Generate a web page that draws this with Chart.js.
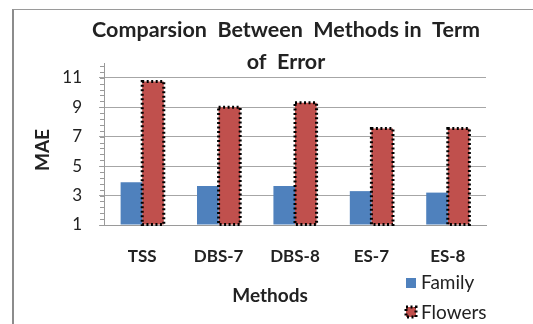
<!DOCTYPE html>
<html>
<head>
<meta charset="utf-8">
<script src="https://cdn.jsdelivr.net/npm/chart.js@4"></script>
<style>
  html, body { margin: 0; padding: 0; background: #fff; }
  #wrap { position: relative; width: 533px; height: 324px; overflow: hidden; }
  #frame { position: absolute; left: 12px; top: 9px; width: 600px; height: 400px;
           border-left: 2px solid #8c8c8c; border-top: 1px solid #9a9a9a; }
  #myChart { position: absolute; left: 0; top: 0; }
</style>
</head>
<body>
<div id="wrap">
  <div id="frame"></div>
  <canvas id="myChart" width="533" height="324"></canvas>
</div>
<script>
const methods = ["TSS", "DBS-7", "DBS-8", "ES-7", "ES-8"];
const familyMae = [3.9, 3.65, 3.65, 3.3, 3.2];
const flowersMae = [10.75, 9.0, 9.3, 7.55, 7.55];
const yTicks = [1, 3, 5, 7, 9, 11];

const FONT = "Lato, 'Open Sans', sans-serif";
const BLUE = "#4f81bd";
const RED = "#c0504d";

// dotted black outline round each "Flowers" bar
function dottedRect(ctx, x, y, w, h) {
  ctx.save();
  ctx.strokeStyle = "#000";
  ctx.lineWidth = 3;
  ctx.setLineDash([2, 2.5]);
  ctx.strokeRect(x, y, w, h);
  ctx.restore();
}

const extras = {
  id: "extras",
  afterDatasetsDraw(chart) {
    const ctx = chart.ctx;
    const meta = chart.getDatasetMeta(1);
    meta.data.forEach((bar) => {
      const p = bar.getProps(["x", "y", "base", "width"], true);
      dottedRect(ctx, p.x - p.width / 2, p.y, p.width, p.base - p.y);
    });
  },
  afterDraw(chart) {
    const ctx = chart.ctx;
    const y = chart.scales.y;
    ctx.save();
    // minor tick marks on the value axis
    ctx.strokeStyle = "#9a9a9a";
    ctx.lineWidth = 1;
    for (let v = 1; v <= 12.001; v += 0.4) {
      const py = Math.round(y.getPixelForValue(v)) + 0.5;
      ctx.beginPath();
      ctx.moveTo(y.right - 4, py);
      ctx.lineTo(y.right, py);
      ctx.stroke();
    }
    ctx.fillStyle = "#222";
    ctx.textAlign = "center";
    ctx.textBaseline = "middle";
    // title
    ctx.font = "bold 21.5px " + FONT;
    ctx.fillText("Comparsion  Between  Methods in  Term", 286, 30);
    ctx.fillText("of  Error", 286, 62);
    // axis titles
    ctx.font = "bold 19px " + FONT;
    ctx.fillText("Methods", 270, 296);
    ctx.save();
    ctx.translate(43, 150);
    ctx.rotate(-Math.PI / 2);
    ctx.fillText("MAE", 0, 0);
    ctx.restore();
    // legend
    ctx.textAlign = "left";
    ctx.font = "19px " + FONT;
    const ds = chart.data.datasets;
    ctx.fillStyle = ds[0].backgroundColor;
    ctx.fillRect(406, 278, 10, 10);
    ctx.fillStyle = ds[1].backgroundColor;
    ctx.fillRect(406, 307, 10, 10);
    dottedRect(ctx, 406, 307, 10, 10);
    ctx.fillStyle = "#222";
    ctx.fillText(ds[0].label, 421, 283);
    ctx.fillText(ds[1].label, 421, 313);
    ctx.restore();
  },
};

new Chart(document.getElementById("myChart"), {
  type: "bar",
  data: {
    labels: methods,
    datasets: [
      { label: "Family", data: familyMae, base: 1, backgroundColor: BLUE, borderWidth: 0 },
      { label: "Flowers", data: flowersMae, base: 1, backgroundColor: RED, borderWidth: 0 },
    ],
  },
  options: {
    responsive: false,
    animation: false,
    layout: { padding: { left: 0, right: 47, top: 63, bottom: 0 } },
    datasets: { bar: { categoryPercentage: 0.565, barPercentage: 1 } },
    plugins: { legend: { display: false }, title: { display: false }, tooltip: { enabled: false } },
    scales: {
      x: {
        grid: { display: false },
        border: { color: "#9a9a9a" },
        ticks: { color: "#222", padding: 13, font: { family: FONT, size: 17, weight: "bold" } },
        afterFit: (s) => { s.height = 99; },
      },
      y: {
        min: 1,
        max: 12,
        afterBuildTicks: (axis) => { axis.ticks = yTicks.map((v) => ({ value: v })); },
        grid: { color: "#a6a6a6", tickLength: 5 },
        border: { color: "#9a9a9a" },
        ticks: { color: "#222", padding: 17, font: { family: FONT, size: 17 } },
        afterFit: (s) => { s.width = 104; },
      },
    },
  },
  plugins: [extras],
});
</script>
</body>
</html>
